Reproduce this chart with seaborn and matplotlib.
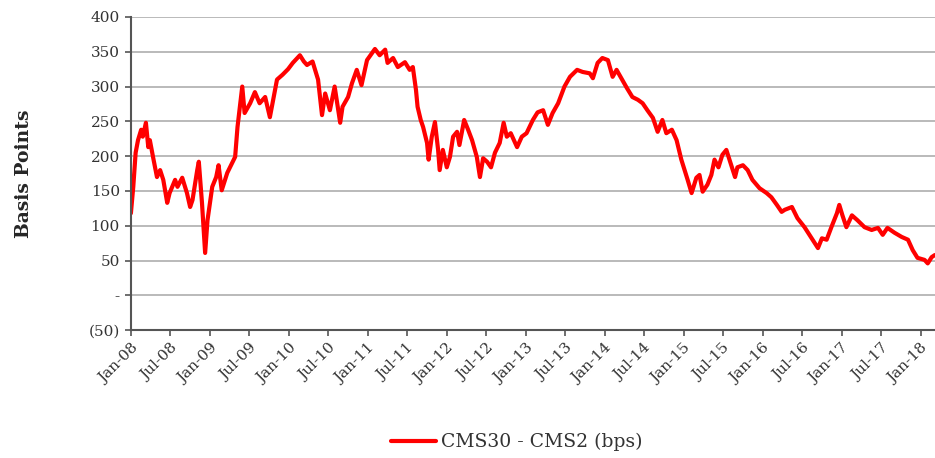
import pandas as pd
import numpy as np
import matplotlib
matplotlib.use("Agg")
import matplotlib.pyplot as plt
import matplotlib.dates as mdates
import seaborn as sns

# spread values (decimal year, bps)
years = [2008.00, 2008.03, 2008.06, 2008.09, 2008.13, 2008.15, 2008.19, 2008.22, 2008.24, 2008.28,
         2008.33, 2008.37, 2008.41, 2008.46, 2008.49, 2008.56, 2008.59, 2008.65, 2008.71, 2008.75,
         2008.78, 2008.84, 2008.86, 2008.90, 2008.94, 2008.97, 2009.03, 2009.08, 2009.11, 2009.15,
         2009.22, 2009.28, 2009.32, 2009.35, 2009.41, 2009.44, 2009.51, 2009.57, 2009.63, 2009.70,
         2009.76, 2009.80, 2009.85, 2009.92, 2009.99, 2010.05, 2010.14, 2010.19, 2010.23, 2010.30,
         2010.37, 2010.42, 2010.46, 2010.52, 2010.58, 2010.65, 2010.68, 2010.75, 2010.80, 2010.86,
         2010.92, 2010.99, 2011.09, 2011.15, 2011.22, 2011.25, 2011.32, 2011.38, 2011.47, 2011.53,
         2011.57, 2011.61, 2011.63, 2011.67, 2011.70, 2011.75, 2011.77, 2011.81, 2011.85, 2011.89,
         2011.91, 2011.95, 2012.00, 2012.04, 2012.08, 2012.13, 2012.16, 2012.22, 2012.27, 2012.32,
         2012.38, 2012.42, 2012.46, 2012.51, 2012.56, 2012.61, 2012.67, 2012.72, 2012.76, 2012.81,
         2012.89, 2012.95, 2013.01, 2013.09, 2013.15, 2013.22, 2013.28, 2013.34, 2013.41, 2013.49,
         2013.56, 2013.65, 2013.72, 2013.81, 2013.85, 2013.91, 2013.97, 2014.04, 2014.10, 2014.15,
         2014.22, 2014.28, 2014.35, 2014.42, 2014.48, 2014.54, 2014.61, 2014.67, 2014.73, 2014.78,
         2014.85, 2014.91, 2014.97, 2015.05, 2015.10, 2015.16, 2015.20, 2015.24, 2015.30, 2015.35,
         2015.39, 2015.44, 2015.49, 2015.54, 2015.61, 2015.65, 2015.68, 2015.75, 2015.81, 2015.87,
         2015.96, 2016.05, 2016.11, 2016.18, 2016.24, 2016.28, 2016.37, 2016.44, 2016.53, 2016.62,
         2016.70, 2016.75, 2016.81, 2016.87, 2016.94, 2016.97, 2017.01, 2017.06, 2017.13, 2017.20,
         2017.29, 2017.38, 2017.46, 2017.52, 2017.58, 2017.67, 2017.76, 2017.84, 2017.90, 2017.96,
         2018.05, 2018.09, 2018.14, 2018.18]
spread = [118, 156, 205, 223, 238, 228, 248, 213, 223, 199,
          170, 180, 166, 133, 147, 166, 156, 169, 147, 127,
          137, 180, 192, 133, 61, 108, 156, 170, 187, 151,
          176, 190, 199, 242, 300, 262, 276, 292, 276, 285,
          256, 280, 310, 317, 325, 334, 345, 336, 331, 336,
          310, 259, 290, 266, 300, 248, 271, 285, 305, 324,
          302, 338, 354, 345, 353, 334, 341, 328, 335, 324,
          328, 295, 271, 252, 242, 219, 195, 228, 249, 209,
          180, 209, 184, 199, 228, 235, 216, 252, 238, 223,
          199, 170, 197, 192, 184, 205, 219, 248, 228, 233,
          213, 228, 233, 252, 263, 266, 245, 262, 276, 300,
          314, 324, 321, 319, 312, 334, 341, 338, 314, 324,
          310, 298, 285, 281, 276, 266, 255, 235, 252, 233,
          238, 223, 195, 166, 147, 169, 173, 149, 159, 173,
          195, 184, 202, 209, 184, 170, 184, 187, 180, 166,
          154, 147, 141, 130, 120, 123, 127, 111, 98, 82,
          68, 82, 80, 98, 118, 130, 115, 98, 115, 108,
          98, 94, 97, 87, 97, 90, 84, 80, 65, 54,
          51, 46, 55, 58]

ytick_vals = [-50, 0, 50, 100, 150, 200, 250, 300, 350, 400]
ytick_labels = ["(50)", "-", "50", "100", "150", "200", "250", "300", "350", "400"]

yrs = np.array(years)
dates = pd.Timestamp("2008-01-01") + pd.to_timedelta((yrs - 2008) * 365.25, unit="D")
df = pd.DataFrame({"Date": dates, "Spread": spread})

sns.set_style("white")
plt.rcParams["font.family"] = ["DejaVu Serif"]

fig = plt.figure(figsize=(9.35, 4.58), dpi=100)
ax = fig.add_axes([0.140, 0.279, 0.860, 0.684])

sns.lineplot(data=df, x="Date", y="Spread", ax=ax, color="#ff0000", linewidth=3,
             label="CMS30 - CMS2 (bps)")

ax.set_ylim(-50, 400)
ax.set_yticks(ytick_vals)
ax.set_yticklabels(ytick_labels, fontsize=11, color="#333333")
ax.set_xlim(pd.Timestamp("2008-01-01"), pd.Timestamp("2018-03-08"))
ax.xaxis.set_major_locator(mdates.MonthLocator(bymonth=[1, 7]))
ax.xaxis.set_major_formatter(mdates.DateFormatter("%b-%y"))
plt.setp(ax.get_xticklabels(), rotation=45, ha="right", rotation_mode="anchor",
         fontsize=11, color="#333333")

ax.yaxis.grid(True, color="#b4b4b4", linewidth=1.3, linestyle="-")
ax.xaxis.grid(False)
ax.set_axisbelow(True)
for s in ["top", "right"]:
    ax.spines[s].set_visible(False)
for s in ["left", "bottom"]:
    ax.spines[s].set_color("#555555")
    ax.spines[s].set_linewidth(1.5)
ax.tick_params(axis="both", direction="out", length=4, width=1.2, color="#555555",
               left=True, bottom=True, pad=4)

ax.set_xlabel("")
ax.set_ylabel("Basis Points", fontsize=13.5, fontweight="bold", labelpad=40)

leg = ax.legend(loc="upper center", bbox_to_anchor=(0.48, -0.275), frameon=False,
                fontsize=13.5, handlelength=2.4, handletextpad=0.3)
for t in leg.get_texts():
    t.set_color("#333333")

fig.savefig("out.png", dpi=100)
